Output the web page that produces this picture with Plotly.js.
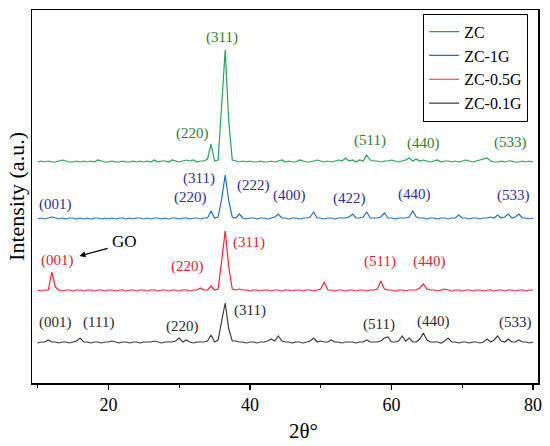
<!DOCTYPE html>
<html>
<head>
<meta charset="utf-8">
<script src="https://cdn.plot.ly/plotly-3.0.1.min.js"></script>
<style>html,body{margin:0;padding:0;background:#fff;}#chart{width:550px;height:446px;}</style>
</head>
<body>
<div id="chart"></div>
<script>
// 2θ grid (degrees)
const twoTheta = [10,10.5,11,11.5,12,12.5,13,13.5,14,14.5,15,15.5,16,16.5,17,17.5,18,18.5,19,19.5,
20,20.5,21,21.5,22,22.5,23,23.5,24,24.5,25,25.5,26,26.5,27,27.5,28,28.5,29,29.5,
30,30.5,31,31.5,32,32.5,33,33.5,34,34.5,35,35.5,36,36.5,37,37.5,38,38.5,39,39.5,
40,40.5,41,41.5,42,42.5,43,43.5,44,44.5,45,45.5,46,46.5,47,47.5,48,48.5,49,49.5,
50,50.5,51,51.5,52,52.5,53,53.5,54,54.5,55,55.5,56,56.5,57,57.5,58,58.5,59,59.5,
60,60.5,61,61.5,62,62.5,63,63.5,64,64.5,65,65.5,66,66.5,67,67.5,68,68.5,69,69.5,
70,70.5,71,71.5,72,72.5,73,73.5,74,74.5,75,75.5,76,76.5,77,77.5,78,78.5,79,79.5,80];

// Relative intensities (a.u.)
const intZC = [1,2,1,2,1,1,2,3,2,1,1,2,1,2,1,2,1,3,2,1,
1,2,1,1,2,1,1,2,1,2,1,2,1,3,1,2,2,1,3,2,
1,2,3,2,3,1,2,2,4,19,2,3,58,113,42,3,2,1,2,1,
2,1,1,2,1,1,2,1,2,3,1,2,1,1,3,2,1,1,2,3,
2,1,2,1,2,3,2,5,2,3,1,3,2,8,3,2,2,1,2,2,
3,2,1,2,3,5,2,4,2,3,2,1,2,3,1,2,2,1,2,1,
2,3,2,1,2,3,4,5,2,1,1,2,1,2,2,1,1,2,1,2,1];

const intZC1G = [0,1,0,1,2,1,0,1,0,1,1,0,1,0,1,0,1,1,0,1,
0,1,0,1,1,0,1,0,1,1,0,1,0,1,1,0,1,0,1,1,
0,1,1,0,1,1,0,1,1,8,1,2,20,44,18,2,1,5,1,0,
1,1,0,1,1,0,1,2,5,1,1,0,1,1,0,1,1,2,7,1,
1,0,1,1,0,1,1,1,2,5,1,1,2,7,1,1,1,2,6,1,
1,0,1,1,1,2,8,2,1,1,0,1,1,0,1,1,0,1,1,4,
1,1,0,1,1,0,1,1,2,1,4,1,2,5,1,2,5,1,1,0,1];

const intZC05G = [1,0,1,1,19,4,1,0,1,1,0,1,1,0,1,1,0,1,1,0,
1,1,0,1,1,0,1,1,0,1,1,0,1,1,0,1,1,0,1,1,
0,1,1,0,1,1,3,1,1,5,1,2,30,60,24,2,1,2,1,1,
0,1,1,0,1,1,0,1,1,0,1,1,0,1,1,0,1,1,0,1,
2,9,1,1,0,1,1,0,1,1,0,1,1,0,1,1,2,10,2,1,
1,0,1,1,0,1,1,1,3,7,2,1,1,0,1,2,1,0,1,1,
0,1,1,0,1,1,0,1,1,0,1,1,0,1,1,0,1,1,0,1,1];

const intZC01G = [0,1,1,3,1,1,0,1,1,0,1,2,5,1,1,0,1,1,0,1,
1,2,1,0,1,1,0,1,1,0,1,1,1,2,1,0,1,1,1,2,
5,1,3,1,0,1,1,1,2,8,1,3,22,40,14,2,2,1,1,0,
1,1,0,1,1,2,4,2,7,2,1,1,0,1,1,0,1,2,5,1,
2,1,1,3,1,1,0,1,1,1,0,1,1,3,1,1,1,2,5,6,
1,1,2,7,2,5,1,1,4,10,3,1,1,1,0,2,5,1,1,0,
1,1,0,1,1,0,1,4,1,3,7,2,1,4,1,1,3,1,1,0,1];

const seriesNames = ["ZC","ZC-1G","ZC-0.5G","ZC-0.1G"];
const seriesValues = [intZC,intZC1G,intZC05G,intZC01G];

// Peak labels per series: [2θ, label]
const labelsZC = [[36.1,"(311)"],[31.9,"(220)"],[57.0,"(511)"],[64.5,"(440)"],[76.75,"(533)"]];
const labelsZC1G = [[12.5,"(001)"],[31.6,"(220)"],[32.85,"(311)"],[40.5,"(222)"],[45.6,"(400)"],[54.0,"(422)"],[63.3,"(440)"],[77.25,"(533)"]];
const labelsZC05G = [[12.8,"(001)"],[31.2,"(220)"],[39.9,"(311)"],[58.4,"(511)"],[65.4,"(440)"]];
const labelsZC01G = [[12.5,"(001)"],[18.6,"(111)"],[30.5,"(220)"],[40.0,"(311)"],[58.3,"(511)"],[66.0,"(440)"],[77.5,"(533)"]];

// --- styling / layout (not data) ---
const offsets = [220,164,92,40];
const lineColors = ["#22a55c","#1f72c2","#ff2236","#3c3c3c"];
const textColors = ["#2f7f2a","#2e2e9e","#e8202e","#2a2a2a"];
const labelY = [
  [346,250,243,240,241],
  [179,186,205,198,188,185,189,188],
  [123,117,141,122,122],
  [61,61,57,73,59,62,61]
];
const allLabels = [labelsZC,labelsZC1G,labelsZC05G,labelsZC01G];
const serif = "Liberation Serif";

const traces = seriesNames.map((n,i)=>({
  x: twoTheta,
  y: seriesValues[i].map(v=>v+offsets[i]),
  type:"scatter", mode:"lines", name:n,
  line:{color:lineColors[i], width:1.2}
}));

const annotations = [];
allLabels.forEach((arr,i)=>{
  arr.forEach((l,j)=>{
    annotations.push({x:l[0], y:labelY[i][j], xref:"x", yref:"y", text:l[1], showarrow:false,
      font:{family:serif, size:15, color:textColors[i]}, xanchor:"center", yanchor:"middle"});
  });
});
annotations.push({x:22.2, y:142, xref:"x", yref:"y", text:"GO", showarrow:false,
  font:{family:serif, size:17, color:"#000"}, xanchor:"center", yanchor:"middle"});
annotations.push({x:15.9, y:127, xref:"x", yref:"y", ax:20.1, ay:135, axref:"x", ayref:"y",
  text:"", showarrow:true, arrowhead:2, arrowsize:1, arrowwidth:1.2, arrowcolor:"#000"});
annotations.push({x:0.537, y:-0.129, xref:"paper", yref:"paper", text:"2θ°", showarrow:false,
  font:{family:serif, size:21, color:"#000"}, xanchor:"center", yanchor:"middle"});

const layout = {
  width:550, height:446,
  margin:{l:32, r:12, t:10, b:63},
  paper_bgcolor:"#fff", plot_bgcolor:"#fff",
  font:{family:serif},
  showlegend:true,
  legend:{x:0.773, y:0.99, xanchor:"left", yanchor:"top", bgcolor:"#fff",
    bordercolor:"#000", borderwidth:1, font:{family:serif, size:16, color:"#000"},
    tracegroupgap:0},
  xaxis:{range:[9.2,80.7], dtick:20, tick0:0, ticks:"outside", ticklen:5, tickwidth:1.2,
    tickcolor:"#000", showline:true, linecolor:"#000", linewidth:1.5, mirror:true,
    showgrid:false, zeroline:false, tickfont:{family:serif, size:18, color:"#000"},
    minor:{dtick:10, tick0:0, ticks:"outside", ticklen:3, tickcolor:"#000", tickwidth:1.2, showgrid:false}},
  yaxis:{range:[0,373], showticklabels:false, ticks:"", showline:true, linecolor:"#000",
    linewidth:1.5, mirror:true, showgrid:false, zeroline:false,
    title:{text:"Intensity (a.u.)", standoff:0, font:{family:serif, size:22, color:"#000"}}},
  annotations:annotations
};

Plotly.newPlot("chart", traces, layout, {displayModeBar:false, staticPlot:true});
</script>
</body>
</html>
